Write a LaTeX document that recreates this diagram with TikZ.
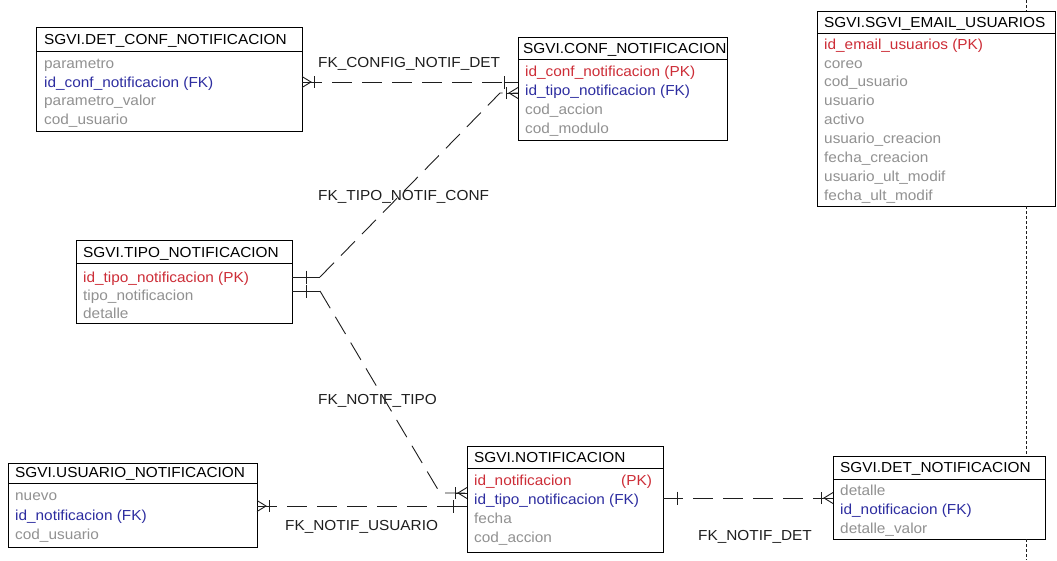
\documentclass[tikz,border=0pt]{standalone}
\usepackage{fontspec}
\setmainfont{Liberation Sans}[FakeStretch=1.06]
\usetikzlibrary{calc}
\definecolor{pkred}{RGB}{205,45,55}
\definecolor{fkblue}{RGB}{45,45,160}
\definecolor{attgray}{RGB}{145,145,145}
\definecolor{relink}{RGB}{30,30,30}

\begin{document}
\begin{tikzpicture}[x=1pt,y=-1pt,
  tbl/.style={draw=black, line width=1pt, fill=white, inner sep=0pt, outer sep=0pt, anchor=north west},
  sepline/.style={draw=black, line width=1pt},
  ttl/.style={anchor=base west, inner sep=0pt, font=\fontsize{14.5}{16}\selectfont, text=black},
  pk/.style={ttl, text=pkred},
  fk/.style={ttl, text=fkblue},
  att/.style={ttl, text=attgray},
  rlabel/.style={ttl, text=relink},
  rel/.style={line width=0.9pt, draw=relink},
  reldash/.style={rel, dash pattern=on 20pt off 10pt},
  guide/.style={line width=1.2pt, draw=relink, dash pattern=on 3pt off 2pt},
  pics/manyend/.style={code={
    \draw[rel] (0,-5.5) -- (9,0) -- (0,5.5);
    \draw[rel] (0,0) -- (12,0);
    \draw[rel] (12,-6) -- (12,6);}},
  pics/oneend/.style={code={
    \draw[rel] (0,0) -- (14,0);
    \draw[rel] (14,-6.5) -- (14,6.5);}}
]
\useasboundingbox (0,0) rectangle (1057,560);
\fill[white] (0,0) rectangle (1057,560);

% ---------- tables ----------
\node[tbl, minimum width=265.5pt, minimum height=104pt] (dcn) at (36.5,27) {};
\draw[sepline] ($(dcn.north west)+(0,24)$) -- ($(dcn.north east)+(0,24)$);
\node[ttl] (dcn-t) at (44,44) {SGVI.DET\_CONF\_NOTIFICACION};
\node[att] (dcn-1) at (44,68) {parametro};
\node[fk]  (dcn-2) at (44,87) {id\_conf\_notificacion (FK)};
\node[att] (dcn-3) at (44,105) {parametro\_valor};
\node[att] (dcn-4) at (44,124) {cod\_usuario};

\node[tbl, minimum width=209pt, minimum height=103pt] (cn) at (518,37) {};
\draw[sepline] ($(cn.north west)+(0,22)$) -- ($(cn.north east)+(0,22)$);
\node[ttl] (cn-t) at (523,53) {SGVI.CONF\_NOTIFICACION};
\node[pk]  (cn-1) at (525,76) {id\_conf\_notificacion (PK)};
\node[fk]  (cn-2) at (525,95) {id\_tipo\_notificacion (FK)};
\node[att] (cn-3) at (525,114) {cod\_accion};
\node[att] (cn-4) at (525,133) {cod\_modulo};

\node[tbl, minimum width=238pt, minimum height=195pt] (em) at (817,11) {};
\draw[sepline] ($(em.north west)+(0,22)$) -- ($(em.north east)+(0,22)$);
\node[ttl] (em-t) at (824,27) {SGVI.SGVI\_EMAIL\_USUARIOS};
\node[pk]  (em-1) at (824,49) {id\_email\_usuarios (PK)};
\node[att] (em-2) at (824,68) {coreo};
\node[att] (em-3) at (824,86) {cod\_usuario};
\node[att] (em-4) at (824,105) {usuario};
\node[att] (em-5) at (824,124) {activo};
\node[att] (em-6) at (824,143) {usuario\_creacion};
\node[att] (em-7) at (824,162) {fecha\_creacion};
\node[att] (em-8) at (824,181) {usuario\_ult\_modif};
\node[att] (em-9) at (824,200) {fecha\_ult\_modif};

\node[tbl, minimum width=216pt, minimum height=83pt] (tipo) at (76,240) {};
\draw[sepline] ($(tipo.north west)+(0,23)$) -- ($(tipo.north east)+(0,23)$);
\node[ttl] (tipo-t) at (83,257) {SGVI.TIPO\_NOTIFICACION};
\node[pk]  (tipo-1) at (83,282) {id\_tipo\_notificacion (PK)};
\node[att] (tipo-2) at (83,300) {tipo\_notificacion};
\node[att] (tipo-3) at (83,318) {detalle};

\node[tbl, minimum width=249pt, minimum height=84pt] (usu) at (8,463) {};
\draw[sepline] ($(usu.north west)+(0,20)$) -- ($(usu.north east)+(0,20)$);
\node[ttl] (usu-t) at (15,477) {SGVI.USUARIO\_NOTIFICACION};
\node[att] (usu-1) at (15,500) {nuevo};
\node[fk]  (usu-2) at (15,520) {id\_notificacion (FK)};
\node[att] (usu-3) at (15,539) {cod\_usuario};

\node[tbl, minimum width=196pt, minimum height=106pt] (nt) at (467,446) {};
\draw[sepline] ($(nt.north west)+(0,22)$) -- ($(nt.north east)+(0,22)$);
\node[ttl] (nt-t) at (474,462) {SGVI.NOTIFICACION};
\node[pk]  (nt-1) at (474,485) {id\_notificacion};
\node[pk]  (nt-1k) at (621,485) {(PK)};
\node[fk]  (nt-2) at (474,504) {id\_tipo\_notificacion (FK)};
\node[att] (nt-3) at (474,523) {fecha};
\node[att] (nt-4) at (474,542) {cod\_accion};

\node[tbl, minimum width=212pt, minimum height=83pt] (det) at (833,456) {};
\draw[sepline] ($(det.north west)+(0,23)$) -- ($(det.north east)+(0,23)$);
\node[ttl] (det-t) at (840,472) {SGVI.DET\_NOTIFICACION};
\node[att] (det-1) at (840,495) {detalle};
\node[fk]  (det-2) at (840,514) {id\_notificacion (FK)};
\node[att] (det-3) at (840,533) {detalle\_valor};

% ---------- subject-area guide ----------
\coordinate (gtop) at (1026.5,0);
\coordinate (gbot) at (1026.5,560);
\draw[guide] (gtop) -- (gtop |- em.north);
\draw[guide] (gtop |- em.south) -- (gtop |- det.north);
\draw[guide] (gtop |- det.south) -- (gbot);

% ---------- relationship end points ----------
\path (dcn.north east) ++(0,55) coordinate (r1a);
\path (cn.north west)  ++(0,45) coordinate (r1b);
\path (tipo.north east) ++(0,37) coordinate (r2a);
\path (cn.north west)  ++(0,56) coordinate (r2b);
\path (tipo.north east) ++(0,51) coordinate (r3a);
\path (nt.north west)  ++(0,47) coordinate (r3b);
\path (usu.north east) ++(0,43) coordinate (r4a);
\path (nt.north west)  ++(0,60) coordinate (r4b);
\path (nt.north east)  ++(0,52) coordinate (r5a);
\path (det.north west) ++(0,42) coordinate (r5b);

% FK_CONFIG_NOTIF_DET
\draw[reldash] (r1a) -- (r1b);
\pic at (r1a) {manyend};
\pic[rotate=180] at (r1b) {oneend};

% FK_TIPO_NOTIF_CONF
\draw[rel] (r2a) -- ++(28,0) coordinate (r2k);
\draw[reldash] (r2k) -- ($(r2b)+(-18,0)$) -- (r2b);
\pic at (r2a) {oneend};
\pic[rotate=180] at (r2b) {manyend};

% FK_NOTIF_TIPO
\draw[rel] (r3a) -- ++(28,0) coordinate (r3k);
\draw[reldash] (r3k) -- ($(r3b)+(-27,0)$) -- (r3b);
\pic at (r3a) {oneend};
\pic[rotate=180] at (r3b) {manyend};

% FK_NOTIF_USUARIO
\draw[reldash] (r4a) -- (r4b);
\pic at (r4a) {manyend};
\pic[rotate=180] at (r4b) {oneend};

% FK_NOTIF_DET
\draw[reldash] (r5a) -- (r5b);
\pic at (r5a) {oneend};
\pic[rotate=180] at (r5b) {manyend};

% ---------- relationship names ----------
\node[rlabel] (l1) at (318,67) {FK\_CONFIG\_NOTIF\_DET};
\node[rlabel] (l2) at (318,200) {FK\_TIPO\_NOTIF\_CONF};
\node[rlabel] (l3) at (318,404) {FK\_NOTIF\_TIPO};
\node[rlabel] (l4) at (285,530) {FK\_NOTIF\_USUARIO};
\node[rlabel] (l5) at (698,540) {FK\_NOTIF\_DET};
\end{tikzpicture}
\end{document}
